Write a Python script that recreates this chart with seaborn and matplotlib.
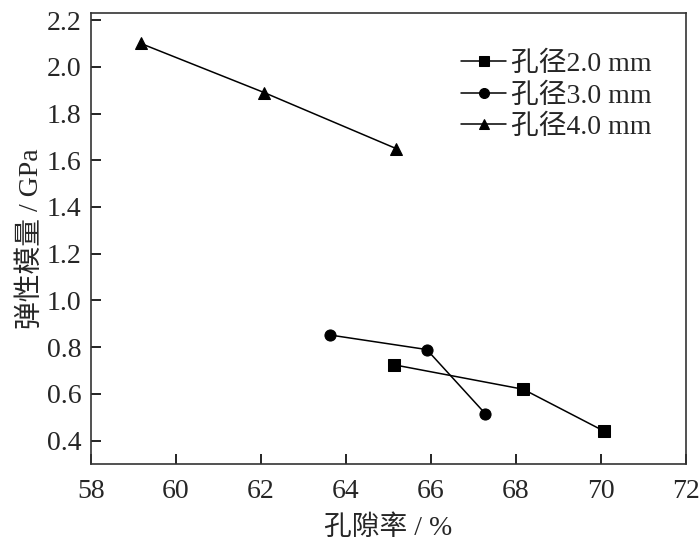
import pandas as pd
import seaborn as sns
import matplotlib.pyplot as plt

series_names = ['孔径2.0 mm', '孔径3.0 mm', '孔径4.0 mm']
porosity_2mm = [65.12, 68.17, 70.08]
modulus_2mm = [0.725, 0.62, 0.44]
porosity_3mm = [63.63, 65.90, 67.28]
modulus_3mm = [0.852, 0.79, 0.515]
porosity_4mm = [59.17, 62.07, 65.18]
modulus_4mm = [2.10, 1.89, 1.65]

def build_frame():
    rows = []
    for name, xs, ys in zip(series_names,
                            [porosity_2mm, porosity_3mm, porosity_4mm],
                            [modulus_2mm, modulus_3mm, modulus_4mm]):
        for x, y in zip(xs, ys):
            rows.append({'porosity': x, 'modulus': y, 'series': name})
    return pd.DataFrame(rows)

def main():
    sns.set_style('ticks')
    plt.rcParams['font.family'] = ['Liberation Serif', 'Noto Sans CJK SC']
    plt.rcParams['xtick.direction'] = 'in'
    plt.rcParams['ytick.direction'] = 'in'

    df = build_frame()
    fig = plt.figure(figsize=(7, 5.44), dpi=100)
    ax = fig.add_axes([0.13, 0.147, 0.85, 0.829])

    sns.lineplot(data=df, x='porosity', y='modulus', hue='series', style='series',
                 hue_order=series_names, style_order=series_names,
                 palette=['black'] * 3, markers={series_names[0]: 's', series_names[1]: 'o', series_names[2]: '^'},
                 dashes=False, sort=False, linewidth=1.1, markersize=8,
                 markeredgecolor='black', ax=ax)

    ax.set_xlim(58, 72)
    ax.set_ylim(0.3, 2.23)
    ax.set_xticks(range(58, 73, 2))
    ax.set_yticks([0.4, 0.6, 0.8, 1.0, 1.2, 1.4, 1.6, 1.8, 2.0, 2.2])
    ax.set_yticklabels(['{:.1f}'.format(v) for v in ax.get_yticks()])
    ax.tick_params(labelsize=20, length=7, width=1.2, color='black')
    ax.tick_params(axis='x', pad=11)
    ax.tick_params(axis='y', pad=7)
    for sp in ax.spines.values():
        sp.set_linewidth(1.2)
        sp.set_color('#333333')

    ax.set_xlabel('孔隙率 / %', fontsize=20, labelpad=8)
    ax.set_ylabel('弹性模量 / GPa', fontsize=20, labelpad=2)

    ax.legend(loc='upper right', bbox_to_anchor=(0.985, 0.97), frameon=False,
              fontsize=20, handlelength=1.6, handletextpad=0.2, labelspacing=0.22,
              markerscale=0.9)

    plt.savefig('out.png', dpi=100)

if __name__ == "__main__":
    main()
